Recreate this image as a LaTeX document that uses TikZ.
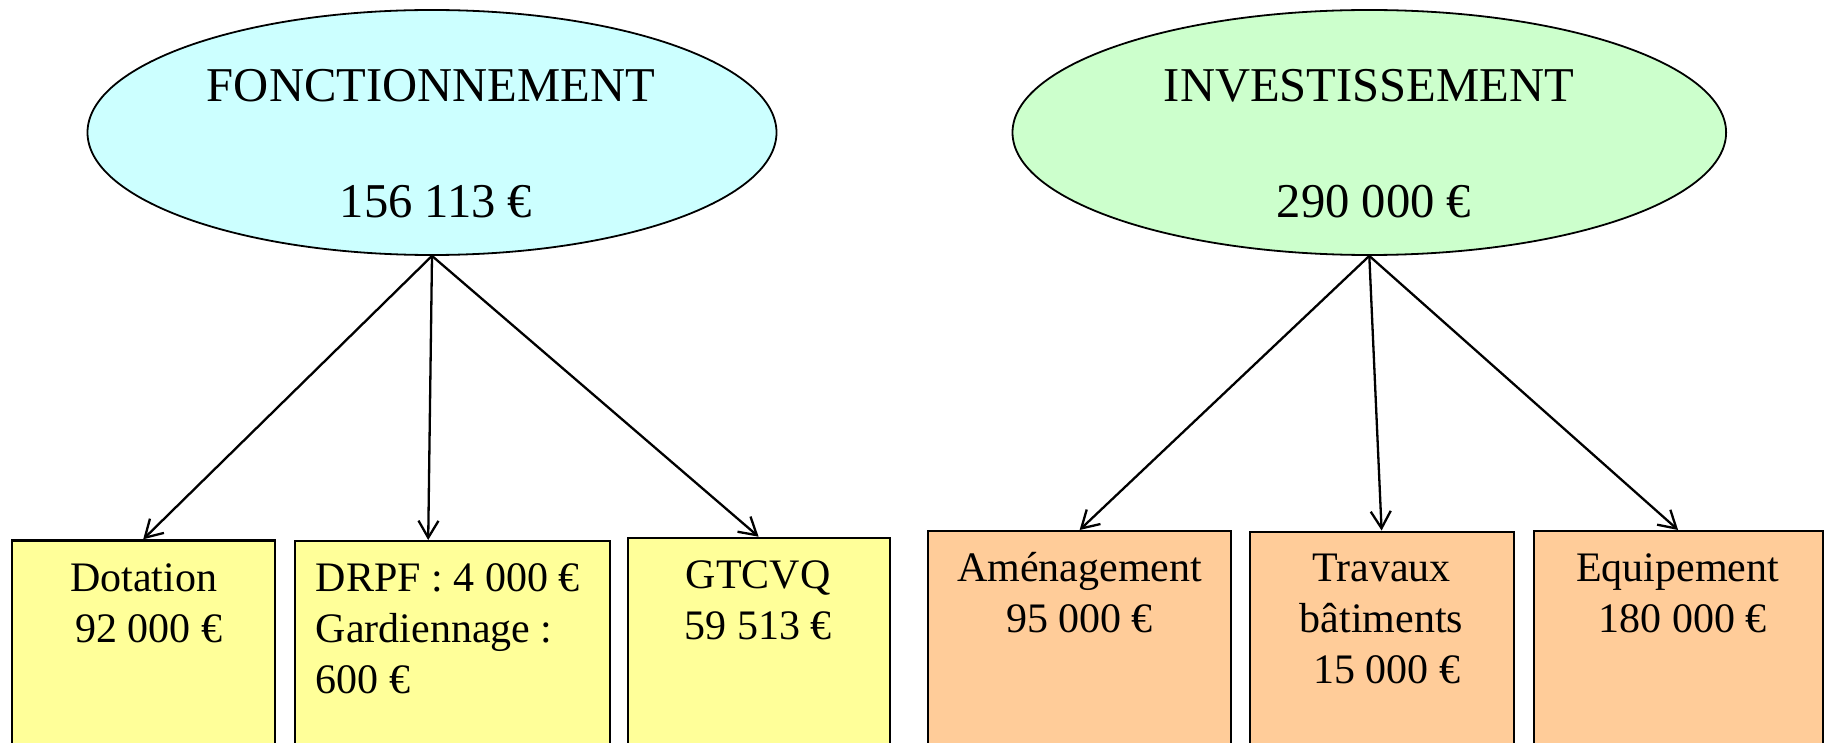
\documentclass[tikz,border=0pt]{standalone}
\usepackage{fontspec}
\setmainfont{Liberation Serif}
\usetikzlibrary{shapes.geometric,arrows.meta}
\definecolor{cyanfill}{HTML}{CCFFFF}
\definecolor{greenfill}{HTML}{CCFFCC}
\definecolor{yellowfill}{HTML}{FFFF99}
\definecolor{orangefill}{HTML}{FFCC99}
\begin{document}
\begin{tikzpicture}[x=0.5pt,y=-0.5pt,
  oval/.style={ellipse,draw,line width=0.9pt,inner sep=0,minimum height=122.5pt},
  boxy/.style={draw,line width=1.1pt,fill=yellowfill,anchor=north west,inner sep=0,minimum height=150pt},
  boxo/.style={boxy,fill=orangefill},
  big/.style={font=\fontsize{24.3}{28}\selectfont,anchor=base,inner sep=0},
  small/.style={font=\fontsize{21}{25.5}\selectfont,anchor=north,align=center,inner sep=0},
  link/.style={-{Straight Barb[length=8.5pt,width=10pt]},line width=1.15pt}]
\clip (0,0) rectangle (1825,743);
\fill[white] (0,0) rectangle (1825,743);

% ellipses
\node[oval,fill=cyanfill,minimum width=344.5pt] (e1) at (432,132.5) {};
\node[big] (e1a) at (431,101.7) {FONCTIONNEMENT};
\node[big] (e1b) at (436,218) {156 113 €};

\node[oval,fill=greenfill,minimum width=356.8pt] (e2) at (1369.3,132.5) {};
\node[big] (e2a) at (1369,101.7) {INVESTISSEMENT};
\node[big] (e2b) at (1374,218) {290 000 €};

% boxes
\node[boxy,minimum width=131.5pt] (b1) at (10.6,539.3) {};
\node[boxy,minimum width=157.5pt] (b2) at (294.2,540) {};
\node[boxy,minimum width=131pt] (b3) at (626.5,536.7) {};
\node[boxo,minimum width=151.5pt] (b4) at (927,530) {};
\node[boxo,minimum width=132pt] (b5) at (1248.5,530.5) {};
\node[boxo,minimum width=144.5pt] (b6) at (1532.5,530) {};

% box texts
\node[small] (t1) at (143.5,555.3) {\strut Dotation\\\ 92 000 €};
\node[small,anchor=north west,align=left] (t2) at (315.5,555.3) {\strut DRPF : 4 000 €\\Gardiennage :\\600 €};
\node[small] (t3) at (758,552.3) {\strut GTCVQ\\59 513 €};
\node[small] (t4) at (1079.5,545) {\strut Aménagement\\95 000 €};
\node[small] (t5) at (1381.5,545) {\strut Travaux\\bâtiments\\\ 15 000 €};
\node[small] (t6) at (1677.5,545) {\strut Equipement\\\ 180 000 €};

% connectors
\draw[link] (e1.south) -- (b1.north);
\draw[link] (e1.south) -- ([xshift=67pt]b2.north west);
\draw[link] (e1.south) -- (b3.north);
\draw[link] (e2.south) -- (b4.north);
\draw[link] (e2.south) -- (b5.north);
\draw[link] (e2.south) -- (b6.north);
\end{tikzpicture}
\end{document}
